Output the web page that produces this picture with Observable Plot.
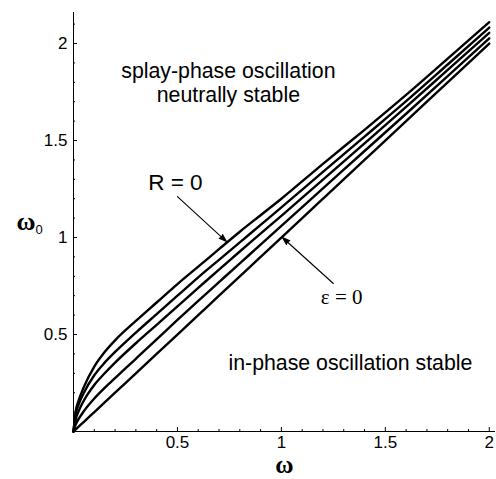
<!DOCTYPE html>
<html>
<head>
<meta charset="utf-8">
<script src="https://cdn.jsdelivr.net/npm/d3@7"></script>
<script src="https://cdn.jsdelivr.net/npm/@observablehq/plot@0.6"></script>
<style>
  html, body { margin: 0; padding: 0; background: white; }
</style>
</head>
<body>
<div id="chart"></div>
<script>
// ω grid (x values)
const omega = [0, 0.01, 0.025, 0.05, 0.1, 0.15, 0.2, 0.3, 0.4, 0.5, 0.6, 0.7, 0.8, 0.9, 1.0, 1.2, 1.4, 1.6, 1.8, 2.0];
// ω0 for each curve, top (R = 0) to bottom (ε = 0)
const curveA = [0, 0.10, 0.16, 0.23, 0.335, 0.41, 0.47, 0.57, 0.665, 0.76, 0.85, 0.94, 1.03, 1.115, 1.2, 1.38, 1.555, 1.735, 1.922, 2.11];
const curveB = [0, 0.085, 0.14, 0.20, 0.29, 0.355, 0.41, 0.51, 0.605, 0.70, 0.795, 0.885, 0.975, 1.065, 1.155, 1.338, 1.52, 1.703, 1.892, 2.082];
const curveC = [0, 0.06, 0.105, 0.16, 0.24, 0.30, 0.355, 0.455, 0.55, 0.645, 0.74, 0.835, 0.928, 1.02, 1.112, 1.298, 1.485, 1.673, 1.864, 2.055];
const curveD = [0, 0.035, 0.065, 0.105, 0.17, 0.225, 0.275, 0.375, 0.475, 0.575, 0.673, 0.77, 0.867, 0.963, 1.06, 1.253, 1.446, 1.638, 1.832, 2.027];
const curveE = [0, 0.01, 0.025, 0.05, 0.1, 0.15, 0.2, 0.3, 0.4, 0.5, 0.6, 0.7, 0.8, 0.9, 1.0, 1.2, 1.4, 1.6, 1.8, 2.0];

// tick values
const xMajor = [0.5, 1, 1.5, 2];
const yMajor = [0.5, 1, 1.5, 2];
const xMinor = [0.1, 0.2, 0.3, 0.4, 0.6, 0.7, 0.8, 0.9, 1.1, 1.2, 1.3, 1.4, 1.6, 1.7, 1.8, 1.9];
const yMinor = [0.1, 0.2, 0.3, 0.4, 0.6, 0.7, 0.8, 0.9, 1.1, 1.2, 1.3, 1.4, 1.6, 1.7, 1.8, 1.9, 2.1];

// annotations (data coordinates)
const regionLabels = [
  {x: 0.745, y: 1.856, text: "splay-phase oscillation"},
  {x: 0.745, y: 1.732, text: "neutrally stable"},
  {x: 1.332, y: 0.351, text: "in-phase oscillation stable"}
];
const rLabel = [{x: 0.49, y: 1.284, text: "R = 0"}];
const eLabel = [{x: 1.29, y: 0.691, text: "ε = 0"}];
const arrows = [
  {x1: 0.50, y1: 1.211, x2: 0.736, y2: 0.979},
  {x1: 1.25, y1: 0.763, x2: 1.005, y2: 1.0}
];

const series = [curveA, curveB, curveC, curveD, curveE];
const table = series.flatMap((vals, k) => vals.map((v, i) => ({w: omega[i], w0: v, curve: k})));

const serif = "Liberation Serif, Times New Roman, serif";

const chart = Plot.plot({
  width: 496,
  height: 479,
  marginLeft: 73,
  marginRight: 1,
  marginTop: 12,
  marginBottom: 48,
  x: {domain: [0, 2.03]},
  y: {domain: [0, 2.16]},
  style: {fontFamily: "Liberation Sans, Arial, sans-serif", fontSize: "17px", color: "black", background: "white"},
  marks: [
    Plot.ruleY([0], {stroke: "black", strokeWidth: 1}),
    Plot.ruleX([0], {stroke: "black", strokeWidth: 1}),
    Plot.axisX({ticks: xMajor, tickSize: -4, tickPadding: 8, tickFormat: d => String(d), label: null, fontSize: 17}),
    Plot.axisX({ticks: xMinor, tickSize: -2, tickFormat: () => "", label: null}),
    Plot.axisY({ticks: yMajor, tickSize: -4, tickPadding: 10, tickFormat: d => String(d), label: null, fontSize: 17}),
    Plot.axisY({ticks: yMinor, tickSize: -2, tickFormat: () => "", label: null}),
    Plot.line(table, {x: "w", y: "w0", z: "curve", stroke: "black", strokeWidth: 2.4, curve: "monotone-x"}),
    Plot.text(regionLabels, {x: "x", y: "y", text: "text", fontSize: 21.3, fill: "black"}),
    Plot.text(rLabel, {x: "x", y: "y", text: "text", fontSize: 22.5, fill: "black"}),
    Plot.text(eLabel, {x: "x", y: "y", text: "text", fontSize: 21, fill: "black", fontFamily: serif}),
    Plot.arrow(arrows, {x1: "x1", y1: "y1", x2: "x2", y2: "y2", stroke: "black", fill: "black", strokeWidth: 1.1, headLength: 11, headAngle: 36}),
    Plot.text(["ω"], {frameAnchor: "bottom", dy: 41, fontSize: 25, fontWeight: "bold", fontFamily: serif, fill: "black"}),
    Plot.text(["ω"], {frameAnchor: "left", dx: -57, dy: 0, fontSize: 26, fontWeight: "bold", fontFamily: serif, fill: "black"}),
    Plot.text(["0"], {frameAnchor: "left", dx: -38, dy: 8, fontSize: 13, fill: "black"})
  ]
});
document.getElementById("chart").appendChild(chart);
</script>
</body>
</html>
